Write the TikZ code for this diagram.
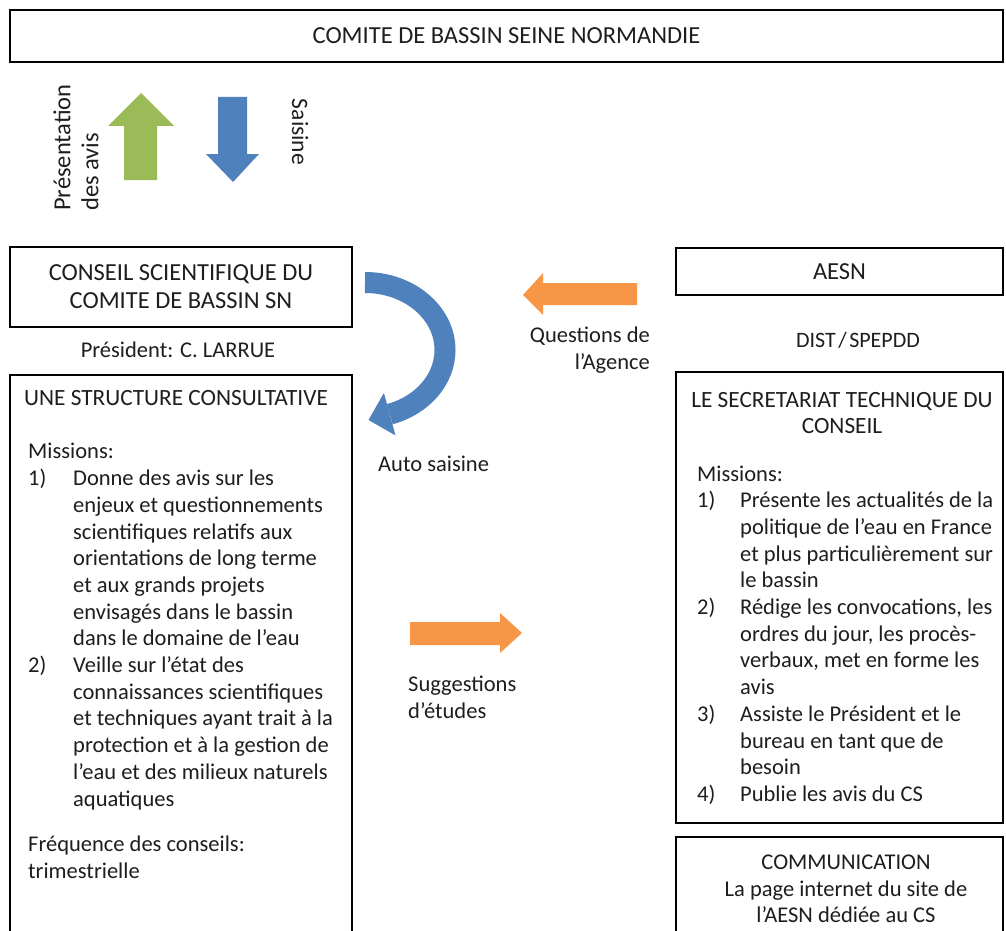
\documentclass[tikz,border=0pt]{standalone}
\usepackage{fontspec}
\setmainfont{Carlito}
\definecolor{cgreen}{HTML}{9BBB59}
\definecolor{cblue}{HTML}{4F81BD}
\definecolor{corange}{HTML}{F79646}
\definecolor{ctext}{HTML}{1E1E1E}
\begin{document}
\begin{tikzpicture}[x=1pt,y=1pt,
  every node/.style={font=\fontsize{22.5}{26.7}\selectfont, text=ctext},
  box/.style={draw=black, line width=1.6pt, inner sep=0pt, align=center},
  bigcaps/.style={font=\fontsize{24.5}{28}\selectfont},
  midcaps/.style={font=\fontsize{23.3}{26}\selectfont},
  txt/.style={inner sep=0pt},
  lst/.style={inner sep=0pt, align=left}]
\useasboundingbox (0,0) rectangle (1006,-931);
\clip (0,0) rectangle (1006,-931);
\fill[white] (0,0) rectangle (1006,-931);

% boxes
\node[box, bigcaps, minimum width=993pt, minimum height=52pt] (cbsn) at (506.5,-36) {COMITE DE BASSIN SEINE NORMANDIE};
\node[box, bigcaps, minimum width=342pt, minimum height=80pt] (cs) at (181,-287) {CONSEIL SCIENTIFIQUE DU\\COMITE DE BASSIN SN};
\node[box, minimum width=342pt, minimum height=570pt] (struct) at (181,-660) {};
\node[box, bigcaps, minimum width=327pt, minimum height=47pt] (aesn) at (839.5,-271.5) {AESN};
\node[box, minimum width=327pt, minimum height=451pt] (sec) at (839.5,-597.5) {};
\node[box, minimum width=327pt, minimum height=108pt] (comm) at (839.5,-891) {};

% free texts
\node[txt] (pres) at (178,-350) {Président: C. LARRUE};
\node[txt, font=\fontsize{22}{26}\selectfont] (dist) at (858,-340) {DIST\kern2.5pt/\kern2.5pt SPEPDD};
\node[txt, midcaps, anchor=base west] (unestr) at (24,-405) {UNE STRUCTURE CONSULTATIVE};
\node[lst, anchor=base west] (lmiss) at (28,-806) {Missions:\\
\makebox[45pt][l]{1)}Donne des avis sur les\\
\hspace*{45pt}enjeux et questionnements\\
\hspace*{45pt}scientifiques relatifs aux\\
\hspace*{45pt}orientations de long terme\\
\hspace*{45pt}et aux grands projets\\
\hspace*{45pt}envisagés dans le bassin\\
\hspace*{45pt}dans le domaine de l’eau\\
\makebox[45pt][l]{2)}Veille sur l’état des\\
\hspace*{45pt}connaissances scientifiques\\
\hspace*{45pt}et techniques ayant trait à la\\
\hspace*{45pt}protection et à la gestion de\\
\hspace*{45pt}l’eau et des milieux naturels\\
\hspace*{45pt}aquatiques};
\node[lst, anchor=base west] (freq) at (28,-878) {Fréquence des conseils:\\trimestrielle};

\node[txt, midcaps, align=center] (sectitle) at (842,-413) {LE SECRETARIAT TECHNIQUE DU\\CONSEIL};
\node[lst, anchor=base west] (rmiss) at (697,-801.4) {Missions:\\
\makebox[43pt][l]{1)}Présente les actualités de la\\
\hspace*{43pt}politique de l’eau en France\\
\hspace*{43pt}et plus particulièrement sur\\
\hspace*{43pt}le bassin\\
\makebox[43pt][l]{2)}Rédige les convocations, les\\
\hspace*{43pt}ordres du jour, les procès-\\
\hspace*{43pt}verbaux, met en forme les\\
\hspace*{43pt}avis\\
\makebox[43pt][l]{3)}Assiste le Président et le\\
\hspace*{43pt}bureau en tant que de\\
\hspace*{43pt}besoin\\
\makebox[43pt][l]{4)}Publie les avis du CS};
\node[txt, align=center] (commtxt) at (846,-889) {COMMUNICATION\\La page internet du site de\\l’AESN dédiée au CS};

\node[txt, align=right, anchor=base east] (quest) at (650,-369) {Questions de\\l’Agence};
\node[txt, anchor=base west] (auto) at (378,-471) {Auto saisine};
\node[txt, align=left, anchor=base west] (sugg) at (408,-718) {Suggestions\\d’études};
\node[txt, align=left, rotate=90, anchor=west, font=\fontsize{24.5}{28}\selectfont] (presavis) at (76,-211) {Présentation\\des avis};
\node[txt, rotate=-90, font=\fontsize{23.5}{28}\selectfont] (saisine) at (300,-132) {Saisine};

% block arrows
\fill[cgreen] (141,-93) -- (174,-126) -- (157,-126) -- (157,-180) -- (124,-180) -- (124,-126) -- (108,-126) -- cycle;
\fill[cblue] (218,-97) -- (247,-97) -- (247,-154) -- (259,-154) -- (233,-182) -- (206,-154) -- (218,-154) -- cycle;
\fill[corange] (637,-283) -- (543,-283) -- (543,-273) -- (523,-295) -- (543,-315) -- (543,-305) -- (637,-305) -- cycle;
\fill[corange] (410,-622) -- (500,-622) -- (500,-613) -- (522,-633) -- (500,-653) -- (500,-645) -- (410,-645) -- cycle;

% curved arrow
\draw[cblue, line width=21pt] (365,-282.5) arc[start angle=90, end angle=-72, x radius=80, y radius=67.5];
\fill[cblue] (395.5,-435.4) -- (368.5,-420) -- (383.9,-393) -- cycle;
\end{tikzpicture}
\end{document}
